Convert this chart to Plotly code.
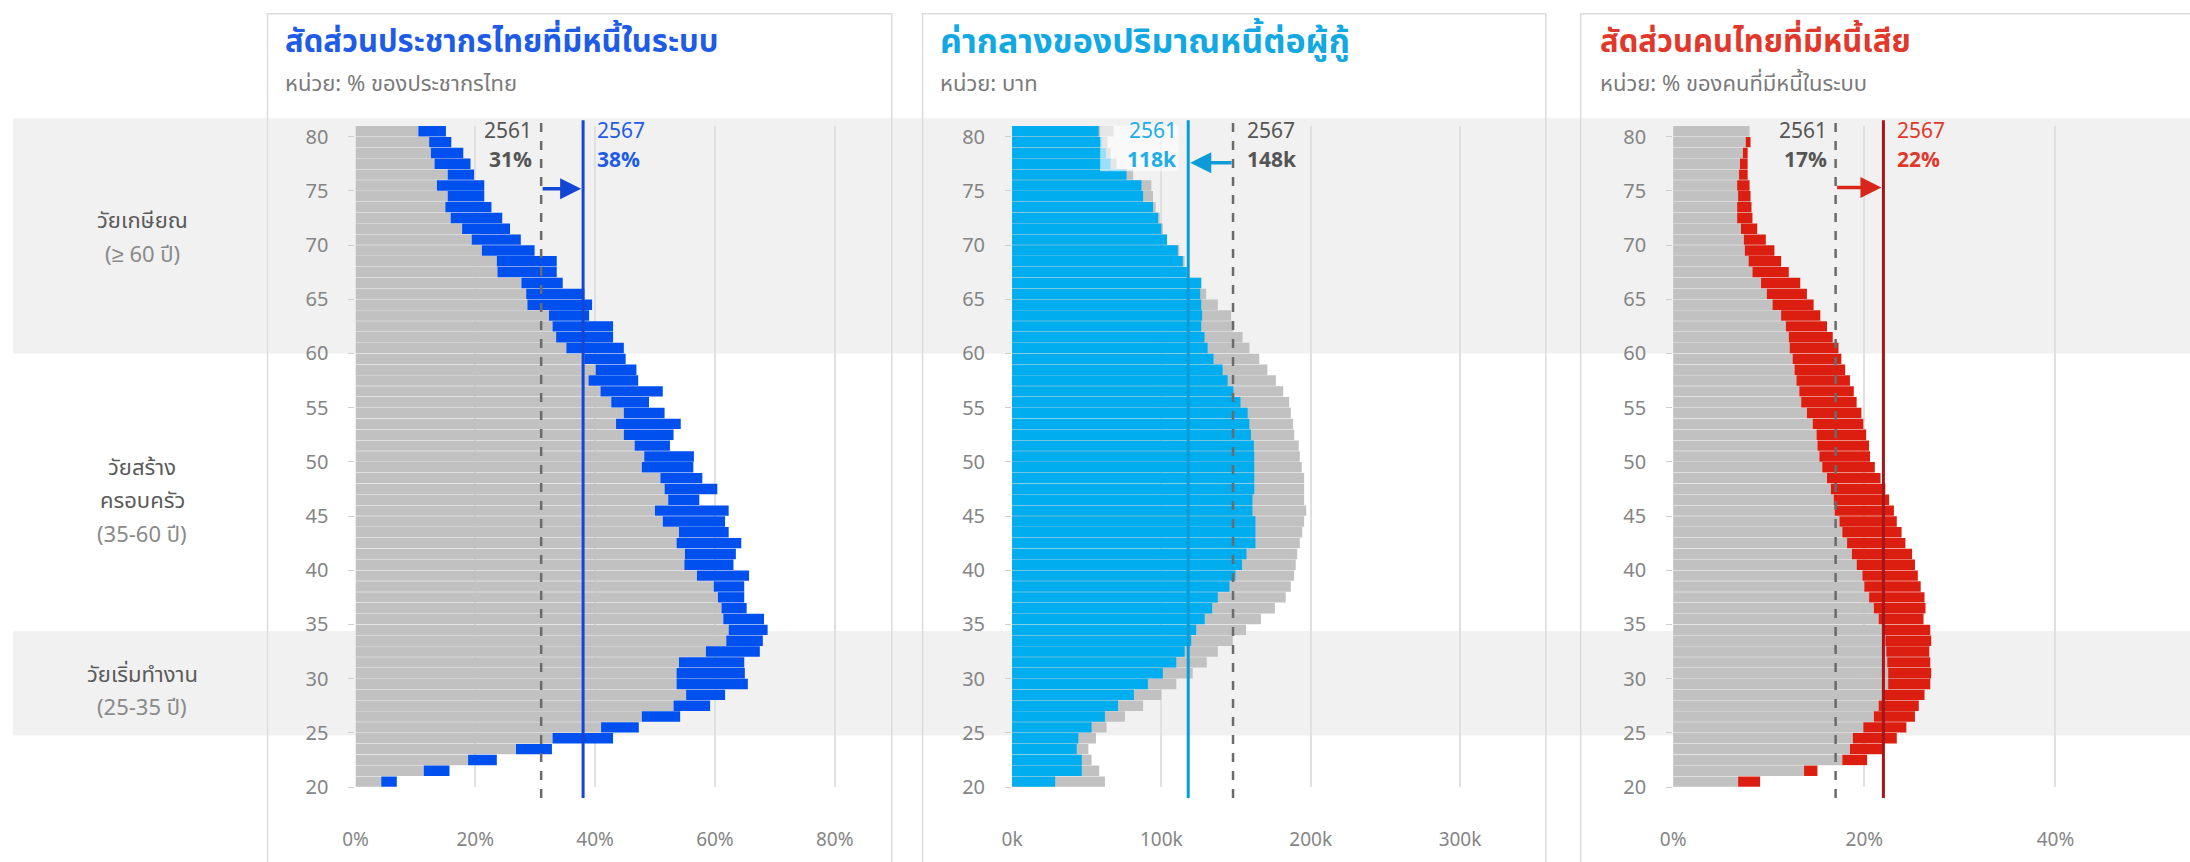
import plotly.graph_objects as go

# ---------------------------------------------------------------- data
ages = list(range(20, 81))

# share of Thai population with debt in the system (%)
borrowers_2561 = [4.3, 11.4, 18.8, 26.8, 32.9, 41.0, 47.8, 53.1, 55.2, 53.6,
                  53.6, 54.0, 58.5, 61.9, 62.3, 61.4, 61.1, 60.5, 59.8, 57.0,
                  54.9, 55.0, 53.6, 54.0, 51.3, 50.0, 52.2, 51.6, 50.9, 47.8,
                  48.2, 46.6, 44.8, 43.5, 44.8, 42.7, 40.9, 38.9, 40.1, 38.2,
                  35.2, 33.5, 32.9, 32.3, 28.7, 28.5, 27.7, 23.7, 23.6, 21.1,
                  19.4, 17.8, 15.9, 15.0, 15.4, 13.6, 15.4, 13.2, 12.6, 12.3,
                  10.5]
borrowers_2567 = [6.9, 15.7, 23.6, 32.8, 43.0, 47.3, 54.2, 59.2, 61.7, 65.5,
                  65.0, 64.9, 67.5, 68.0, 68.8, 68.2, 65.3, 64.9, 64.9, 65.7,
                  63.1, 63.5, 64.4, 62.3, 61.7, 62.3, 57.4, 60.4, 57.9, 56.4,
                  56.5, 52.5, 53.1, 54.3, 51.6, 49.0, 51.3, 47.2, 46.9, 45.1,
                  44.8, 43.0, 43.0, 39.0, 39.5, 38.2, 34.6, 33.6, 33.6, 29.9,
                  27.6, 25.8, 24.5, 22.7, 21.5, 21.5, 19.8, 19.2, 18.0, 16.0,
                  15.1]

# median debt per borrower (thousand baht)
debt_2561 = [28.9, 46.7, 46.7, 43.3, 44.4, 53.3, 62.2, 71.0, 81.6, 91.0,
             101.0, 110.0, 115.6, 120.0, 123.3, 129.0, 134.0, 137.8, 145.6, 149.6,
             154.0, 157.0, 163.0, 163.0, 163.0, 161.0, 161.0, 162.2, 162.2, 162.2,
             162.2, 162.0, 160.0, 158.9, 157.8, 153.0, 148.2, 144.4, 141.0, 134.9,
             131.0, 128.9, 126.7, 127.3, 126.7, 126.0, 126.7, 117.0, 114.4, 111.0,
             103.8, 100.0, 97.8, 94.4, 87.8, 86.7, 76.7, 66.0, 63.0, 60.0,
             58.0]
debt_2567 = [62.2, 58.4, 53.3, 51.1, 56.2, 63.3, 75.6, 87.8, 100.0, 110.0,
             121.0, 130.4, 137.8, 147.8, 156.7, 166.7, 176.0, 183.3, 186.7, 188.9,
             190.0, 191.0, 192.7, 194.4, 195.6, 197.0, 195.6, 195.6, 195.6, 194.0,
             192.7, 192.0, 189.0, 188.2, 186.7, 185.6, 181.6, 176.7, 171.0, 165.6,
             159.0, 154.4, 148.2, 146.7, 137.8, 130.0, 126.7, 117.8, 115.6, 112.0,
             103.8, 101.0, 98.9, 96.2, 94.4, 93.3, 81.1, 70.0, 66.0, 64.0,
             68.0]

# share of borrowers with non-performing debt (%)
npl_2561 = [6.8, 13.7, 17.7, 18.5, 18.8, 19.9, 21.0, 21.5, 22.0, 22.5,
            22.5, 22.4, 22.3, 22.2, 22.0, 21.5, 21.0, 20.5, 20.0, 19.8,
            19.2, 18.7, 18.2, 17.7, 17.4, 16.9, 16.8, 16.5, 16.1, 15.6,
            15.3, 15.1, 15.0, 14.6, 14.0, 13.4, 13.2, 12.9, 12.7, 12.5,
            12.2, 12.1, 11.8, 11.3, 10.4, 9.8, 9.2, 8.3, 7.9, 7.5,
            7.4, 7.1, 6.7, 6.7, 6.8, 6.7, 6.9, 7.0, 7.3, 7.6,
            8.0]
npl_2567 = [9.1, 15.1, 20.3, 22.0, 23.4, 24.4, 25.3, 25.7, 26.3, 26.9,
            27.0, 26.9, 26.8, 27.0, 26.9, 26.2, 26.4, 26.3, 25.9, 25.6,
            25.3, 25.0, 24.3, 23.9, 23.4, 23.1, 22.6, 22.2, 21.7, 21.1,
            20.6, 20.5, 20.2, 19.9, 19.7, 19.2, 18.9, 18.5, 18.0, 17.6,
            17.3, 16.7, 16.1, 15.4, 14.7, 14.0, 13.3, 12.1, 11.3, 10.6,
            9.7, 8.8, 8.3, 8.2, 8.1, 8.0, 7.8, 7.8, 7.8, 8.1,
            8.0]

# overall figures quoted next to the reference lines
avg_borrowers = {"2561": 31, "2567": 38}
avg_debt = {"2561": 118, "2567": 148}
avg_npl = {"2561": 17, "2567": 22}

age_ticks = list(range(20, 81, 5))
x_ticks_pct1 = [0, 20, 40, 60, 80]
x_ticks_debt = [0, 100, 200, 300]
x_ticks_pct3 = [0, 20, 40]

# age groups shaded across the whole figure
age_bands = [(60, 81.7), (24.75, 34.4)]
age_groups = [
    (70.6, ["วัยเกษียณ", "(≥ 60 ปี)"]),
    (46.3, ["วัยสร้าง", "ครอบครัว", "(35-60 ปี)"]),
    (28.8, ["วัยเริ่มทำงาน", "(25-35 ปี)"]),
]

# ---------------------------------------------------------------- style
W, H = 2190, 862
FONT = "Noto Sans Thai, Noto Sans, sans-serif"
GRAY_BAR = "#c1c1c1"
BLUE = "#0050ef"
BLUE_TXT = "#1f5ce6"
CYAN = "#00aeef"
CYAN_LINE = "#0a9bd8"
RED = "#dc1e10"
RED_TXT = "#e0392c"
RED_LINE = "#a3161a"
DARK = "#555555"
TICK = "#858585"
BAND = "#f1f1f1"

Y_RANGE = [20, 81]
Y_TOP_PX, Y_BOT_PX = 125.6, 801.7


def fx(px):
    return px / W


def fy(px):
    return 1 - px / H


def age_px(a):
    return Y_BOT_PX - (a - Y_RANGE[0]) * (Y_BOT_PX - Y_TOP_PX) / (Y_RANGE[1] - Y_RANGE[0])


y_dom = [fy(Y_BOT_PX), fy(Y_TOP_PX)]
bar_y = [a + 0.5 for a in ages]

fig = go.Figure()

# panel 1: grey = 2561, blue segment runs from the 2561 to the 2567 value
fig.add_bar(y=bar_y, x=borrowers_2561, orientation="h", marker_color=GRAY_BAR,
            xaxis="x", yaxis="y")
fig.add_bar(y=bar_y, x=[n - o for n, o in zip(borrowers_2567, borrowers_2561)],
            base=borrowers_2561, orientation="h", marker_color=BLUE,
            xaxis="x", yaxis="y")

# panel 2: grey bars behind, cyan bars in front
fig.add_bar(y=bar_y, x=debt_2567, orientation="h", marker_color=GRAY_BAR,
            xaxis="x2", yaxis="y2")
fig.add_bar(y=bar_y, x=debt_2561, orientation="h", marker_color=CYAN,
            xaxis="x2", yaxis="y2")

# panel 3: grey = 2561, red segment from the 2561 to the 2567 value
fig.add_bar(y=bar_y, x=npl_2561, orientation="h", marker_color=GRAY_BAR,
            xaxis="x3", yaxis="y3")
fig.add_bar(y=bar_y, x=[n - o for n, o in zip(npl_2567, npl_2561)],
            base=npl_2561, orientation="h", marker_color=RED,
            xaxis="x3", yaxis="y3")

fig.update_traces(marker_line_width=0, hoverinfo="skip")

panels = [
    dict(x0=344.5, x1=868.8, rng=[0, 87], ticks=x_ticks_pct1,
         labels=[f"{t}%" for t in x_ticks_pct1]),
    dict(x0=1005, x1=1530, rng=[0, 349.5], ticks=x_ticks_debt,
         labels=[f"{t}k" for t in x_ticks_debt]),
    dict(x0=1670, x1=W, rng=[0, 54.07], ticks=x_ticks_pct3,
         labels=[f"{t}%" for t in x_ticks_pct3]),
]

layout_axes = {}
for i, p in enumerate(panels):
    sfx = "" if i == 0 else str(i + 1)
    layout_axes["xaxis" + sfx] = dict(
        domain=[fx(p["x0"]), fx(p["x1"])], range=p["rng"], anchor="y" + sfx,
        tickvals=p["ticks"], ticktext=p["labels"], showgrid=True,
        gridcolor="#e0e0e0", gridwidth=1.5, zeroline=False, showline=False,
        ticks="", ticklabelstandoff=39,
        tickfont=dict(family=FONT, size=19, color=TICK), fixedrange=True)
    layout_axes["yaxis" + sfx] = dict(
        domain=y_dom, range=Y_RANGE, anchor="x" + sfx, tickvals=age_ticks,
        showgrid=False, zeroline=False, showline=False, ticks="outside",
        ticklen=6, tickcolor="#cfcfcf", tickwidth=1, ticklabelstandoff=16,
        tickfont=dict(family=FONT, size=20, color=TICK), fixedrange=True)

shapes = []
# white panel cards
cards = [(256, 884), (915, 1542), (1577, 2200)]
for cx0, cx1 in cards:
    shapes.append(dict(type="rect", xref="paper", yref="paper", layer="below",
                       x0=fx(cx0), x1=fx(cx1), y0=fy(880), y1=fy(11),
                       fillcolor="white", line_width=0))
# age group bands
for a0, a1 in age_bands:
    shapes.append(dict(type="rect", xref="paper", yref="paper", layer="below",
                       x0=0, x1=1, y0=fy(age_px(a0)), y1=fy(age_px(a1)),
                       fillcolor=BAND, line_width=0))
for cx0, cx1 in cards:
    shapes.append(dict(type="rect", xref="paper", yref="paper", layer="below",
                       x0=fx(cx0), x1=fx(cx1), y0=fy(880), y1=fy(11),
                       fillcolor="rgba(0,0,0,0)", line=dict(color="#dcdcdc", width=1.5)))

# translucent backing behind the 2561 label of the debt panel
shapes.append(dict(type="rect", xref="x2", yref="paper", layer="above",
                   x0=avg_debt["2561"] - 59, x1=avg_debt["2561"] - 6.5,
                   y0=fy(172), y1=fy(125.6),
                   fillcolor="rgba(255,255,255,0.6)", line_width=0))

# reference lines
line_y0, line_y1 = fy(813), fy(120)
ref_lines = [
    ("x", avg_borrowers["2561"], "#6b6b6b", "dash", 2.5),
    ("x", avg_borrowers["2567"], "#1446d6", "solid", 3),
    ("x2", avg_debt["2567"], "#6b6b6b", "dash", 2.5),
    ("x2", avg_debt["2561"], CYAN_LINE, "solid", 3),
    ("x3", avg_npl["2561"], "#6b6b6b", "dash", 2.5),
    ("x3", avg_npl["2567"], RED_LINE, "solid", 3),
]
for xr, v, col, dash, w in ref_lines:
    shapes.append(dict(type="line", xref=xr, yref="paper", x0=v, x1=v,
                       y0=line_y0, y1=line_y1,
                       line=dict(color=col, width=w, dash=dash)))

annotations = []


def note(text, x, y, xanchor, color, size=21, xref="paper", yref="paper",
         xshift=0, yshift=0):
    annotations.append(dict(text=text, x=x, y=y, xref=xref, yref=yref,
                            xanchor=xanchor, yanchor="middle", showarrow=False,
                            xshift=xshift, yshift=yshift,
                            font=dict(family=FONT, size=size, color=color)))


# panel titles
titles = [
    (272, "สัดส่วนประชากรไทยที่มีหนี้ในระบบ", BLUE_TXT, 31, "หน่วย: % ของประชากรไทย"),
    (931, "ค่ากลางของปริมาณหนี้ต่อผู้กู้", "#12a8e2", 34, "หน่วย: บาท"),
    (1594, "สัดส่วนคนไทยที่มีหนี้เสีย", RED_TXT, 31, "หน่วย: % ของคนที่มีหนี้ในระบบ"),
]
for tx, title, col, tsize, sub in titles:
    note(f"<b>{title}</b>", fx(tx), fy(40), "left", col, size=tsize)
    note(sub, fx(tx), fy(83), "left", "#7a7a7a", size=22)

# age group labels on the left, one text per line
LINE_STEP = 34
for y_age, lines in age_groups:
    n = len(lines)
    for k, line in enumerate(lines):
        col = "#8a8a8a" if line.startswith("(") else "#5a5a5a"
        off = (k - (n - 1) / 2) * LINE_STEP
        note(line, fx(130), fy(age_px(y_age) + off), "center", col, size=22)

# value labels beside the reference lines (year on top, value below)
lab_y = 79.1
val_labels = [
    ("x", "y", avg_borrowers["2561"], "right", -7, DARK, "2561",
     f"{avg_borrowers['2561']}%"),
    ("x", "y", avg_borrowers["2567"], "left", 12, BLUE_TXT, "2567",
     f"{avg_borrowers['2567']}%"),
    ("x2", "y2", avg_debt["2561"], "right", -9, "#21aee6", "2561",
     f"{avg_debt['2561']}k"),
    ("x2", "y2", avg_debt["2567"], "left", 12, DARK, "2567",
     f"{avg_debt['2567']}k"),
    ("x3", "y3", avg_npl["2561"], "right", -7, DARK, "2561",
     f"{avg_npl['2561']}%"),
    ("x3", "y3", avg_npl["2567"], "left", 12, RED_TXT, "2567",
     f"{avg_npl['2567']}%"),
]
for xr, yr, v, anchor, xs, col, year, val in val_labels:
    note(year, v, lab_y, anchor, col, xref=xr, yref=yr, xshift=xs, yshift=14.5)
    note(f"<b>{val}</b>", v, lab_y, anchor, col, xref=xr, yref=yr, xshift=xs,
         yshift=-14.5)

# arrows from one reference line to the other
arrows = [
    ("x", "y", avg_borrowers["2561"], avg_borrowers["2567"], 75.2, "#1446d6"),
    ("x2", "y2", avg_debt["2567"], avg_debt["2561"], 77.6, CYAN_LINE),
    ("x3", "y3", avg_npl["2561"], avg_npl["2567"], 75.3, "#d8261b"),
]
for xr, yr, start, end, ya, col in arrows:
    annotations.append(dict(x=end, y=ya, ax=start, ay=ya, xref=xr, yref=yr,
                            axref=xr, ayref=yr, text="", showarrow=True,
                            arrowhead=2, arrowsize=1.2, arrowwidth=3.5,
                            arrowcolor=col, standoff=2))

fig.update_layout(
    width=W, height=H, margin=dict(l=0, r=0, t=0, b=0),
    paper_bgcolor="white", plot_bgcolor="rgba(0,0,0,0)",
    barmode="overlay", bargap=0.04, showlegend=False,
    shapes=shapes, annotations=annotations,
    font=dict(family=FONT), **layout_axes,
)

fig.write_html("out.html", config={"displayModeBar": False})
